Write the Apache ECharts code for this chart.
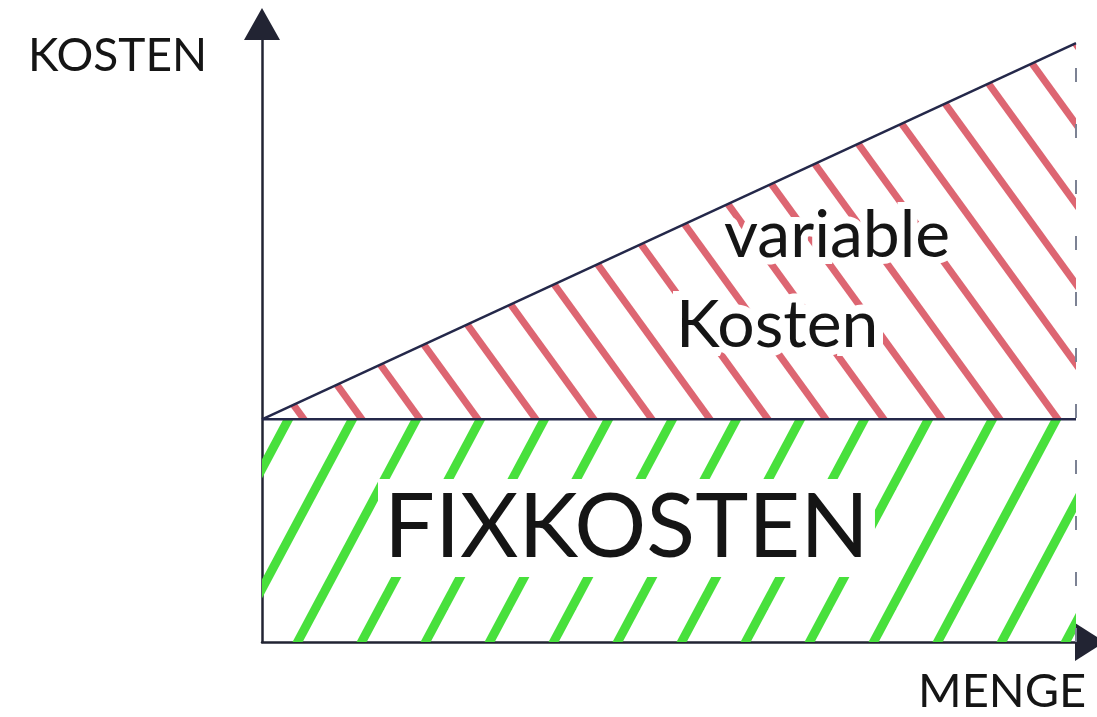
<!DOCTYPE html>
<html>
<head>
<meta charset="utf-8">
<script src="https://cdn.jsdelivr.net/npm/echarts@6/dist/echarts.min.js"></script>
<style>
  html, body { margin: 0; padding: 0; background: #fff; }
  #chart { width: 1097px; height: 717px; }
</style>
</head>
<body>
<div id="chart"></div>
<script>
// Menge (x) und Kosten (y)
const menge = ['0', '100'];
const fixkosten = [37, 37];
const variableKosten = [0, 62.5];
const xName = 'MENGE';
const yName = 'KOSTEN';
const fixLabel = 'FIXKOSTEN';
const varLabel = ['variable', 'Kosten'];

// Schraffur als Muster (Linien über den Kachelrand hinaus, damit keine Lücken entstehen)
function hatch(w, h, color, width, dir) {
  const c = document.createElement('canvas');
  c.width = w;
  c.height = h;
  const ctx = c.getContext('2d');
  ctx.strokeStyle = color;
  ctx.lineWidth = width;
  for (let k = -2; k <= 2; k++) {
    ctx.beginPath();
    if (dir > 0) {
      ctx.moveTo(k * w - w, 2 * h);
      ctx.lineTo(k * w + 2 * w, -h);
    } else {
      ctx.moveTo(k * w - w, -h);
      ctx.lineTo(k * w + 2 * w, 2 * h);
    }
    ctx.stroke();
  }
  return c;
}

const redHatch = hatch(58, 80, '#dd6672', 7, -1);
const greenHatch = hatch(64, 120, '#48e03c', 9, 1);

const lineColor = '#24284a';
const font = 'Lato, "Open Sans", sans-serif';

const myChart = echarts.init(document.getElementById('chart'));
myChart.setOption({
  backgroundColor: '#fff',
  animation: false,
  grid: { left: 262, right: 21, top: 40, bottom: 75 },
  xAxis: {
    type: 'category',
    data: menge,
    boundaryGap: false,
    axisLine: {
      lineStyle: { color: '#222433', width: 2.5 },
      symbol: ['none', 'triangle'],
      symbolSize: [38, 30],
      symbolOffset: [0, 14],
    },
    axisTick: { show: false },
    axisLabel: { show: false },
    splitLine: { show: false },
  },
  yAxis: {
    type: 'value',
    min: 0,
    max: 100,
    axisLine: {
      show: true,
      lineStyle: { color: '#222433', width: 2.5 },
      symbol: ['none', 'triangle'],
      symbolSize: [36, 32],
      symbolOffset: [0, 16],
    },
    axisTick: { show: false },
    axisLabel: { show: false },
    splitLine: { show: false },
  },
  series: [
    {
      name: 'Fixkosten',
      type: 'line',
      stack: 'kosten',
      data: fixkosten,
      symbol: 'none',
      lineStyle: { color: lineColor, width: 2.5 },
      areaStyle: { color: { image: greenHatch, repeat: 'repeat' }, opacity: 1 },
      markLine: {
        silent: true,
        symbol: 'none',
        label: { show: false },
        lineStyle: { color: '#7c8294', width: 2, type: [14, 42] },
        data: [{ xAxis: menge[menge.length - 1] }],
      },
    },
    {
      name: 'variable Kosten',
      type: 'line',
      stack: 'kosten',
      data: variableKosten,
      symbol: 'none',
      lineStyle: { color: lineColor, width: 2.5 },
      areaStyle: { color: { image: redHatch, repeat: 'repeat' }, opacity: 1 },
    },
  ],
  graphic: [
    {
      type: 'text', z: 100, x: 28, y: 56,
      style: { text: yName, font: '46px ' + font, fill: '#151515', verticalAlign: 'middle' },
    },
    {
      type: 'text', z: 100, x: 918, y: 692,
      style: { text: xName, font: '47px ' + font, fill: '#151515', verticalAlign: 'middle' },
    },
    {
      type: 'text', z: 100, x: 724, y: 236,
      style: {
        text: varLabel[0], font: '66px ' + font, fill: '#151515', verticalAlign: 'middle',
        stroke: '#fff', lineWidth: 14,
      },
    },
    {
      type: 'text', z: 100, x: 676, y: 326,
      style: {
        text: varLabel[1], font: '66px ' + font, fill: '#151515', verticalAlign: 'middle',
        stroke: '#fff', lineWidth: 18,
      },
    },
    {
      type: 'text', z: 100, x: 378, y: 528,
      style: {
        text: fixLabel, font: '90px ' + font, fill: '#151515', verticalAlign: 'middle',
        backgroundColor: '#fff', padding: [4, 6],
      },
    },
  ],
});
</script>
</body>
</html>
